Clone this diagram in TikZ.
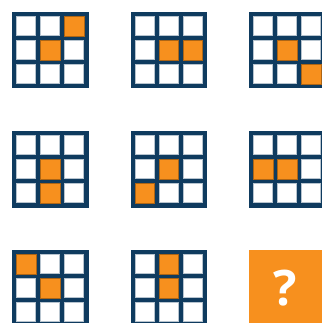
\documentclass[tikz,border=0pt]{standalone}
\usepackage{fontspec}
\setmainfont{Open Sans}
\definecolor{navy}{HTML}{0F3B5F}
\definecolor{org}{HTML}{F7901E}
\tikzset{
  cellwhite/.style={fill=white, draw=navy!30, line width=0.8pt},
  cellorange/.style={fill=org, draw=org!70!black, line width=0.5pt},
  gridframe/.style={fill=navy},
}
\newcommand\puzzlegrid[3]{%
  \fill[gridframe] (#1,#2) rectangle ++(76.5,76.5);
  \foreach \r in {0,1,2}{\foreach \c in {0,1,2}{
     \path[cellwhite] ({#1+4.6+24*\c},{#2+4.6+24*\r}) rectangle ++(19.2,19.2);}}
  \foreach \r/\c in {#3}{\path[cellorange] ({#1+4.4+24*\c},{#2+4.4+24*\r}) rectangle ++(19.6,19.6);}
}
\begin{document}
\begin{tikzpicture}[x=1pt,y=-1pt]
\useasboundingbox (0,0) rectangle (321,323);
\puzzlegrid{12}{12}{0/2,1/1}
\puzzlegrid{130.5}{12}{1/1,1/2}
\puzzlegrid{249}{12}{1/1,2/2}
\puzzlegrid{12}{131}{1/1,2/1}
\puzzlegrid{130.5}{131}{1/1,2/0}
\puzzlegrid{249}{131}{1/0,1/1}
\puzzlegrid{12}{250}{0/0,1/1}
\puzzlegrid{130.5}{250}{0/1,1/1}
\fill[org] (249,250) rectangle ++(76.5,76.5);
\node[text=white, font=\fontsize{49}{49}\selectfont\bfseries, inner sep=0pt] (q) at (285.5,288) {?};
\end{tikzpicture}
\end{document}
